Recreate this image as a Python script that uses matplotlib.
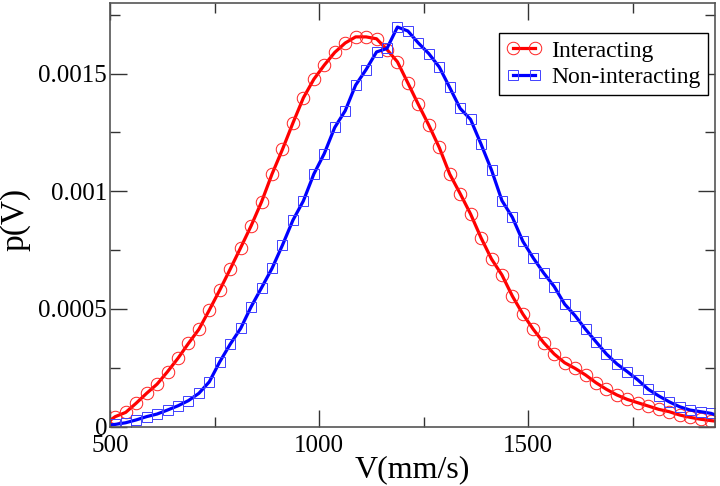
import numpy as np
import matplotlib.pyplot as plt
from matplotlib.ticker import FixedLocator, FixedFormatter

plt.rcParams['font.family'] = ['Liberation Serif', 'DejaVu Serif']

# bin centres (mm/s), 25 mm/s wide bins
velocidad = np.arange(487.5, 1975.0, 25.0)

interacting = [
    0.000010, 0.000042, 0.000060, 0.000099, 0.000141, 0.000180, 0.000233, 0.000290,
    0.000353, 0.000413, 0.000495, 0.000580, 0.000669, 0.000760, 0.000853, 0.000955,
    0.001073, 0.001178, 0.001290, 0.001397, 0.001476, 0.001536, 0.001590, 0.001630,
    0.001656, 0.001656, 0.001648, 0.001602, 0.001550, 0.001460, 0.001369, 0.001281,
    0.001186, 0.001073, 0.000990, 0.000903, 0.000802, 0.000712, 0.000644, 0.000554,
    0.000478, 0.000413, 0.000356, 0.000308, 0.000271, 0.000247, 0.000219, 0.000186,
    0.000158, 0.000134, 0.000115, 0.000101, 0.000087, 0.000073, 0.000063, 0.000049,
    0.000039, 0.000031, 0.000025, 0.000020,
]

non_interacting = [
    0.000004, 0.000009, 0.000016, 0.000028, 0.000042, 0.000053, 0.000070, 0.000088,
    0.000110, 0.000141, 0.000190, 0.000275, 0.000350, 0.000417, 0.000509, 0.000590,
    0.000672, 0.000771, 0.000877, 0.000959, 0.001073, 0.001160, 0.001271, 0.001342,
    0.001451, 0.001517, 0.001592, 0.001607, 0.001698, 0.001681, 0.001630, 0.001585,
    0.001528, 0.001441, 0.001352, 0.001305, 0.001200, 0.001090, 0.000960, 0.000889,
    0.000787, 0.000716, 0.000652, 0.000595, 0.000520, 0.000471, 0.000413, 0.000360,
    0.000308, 0.000266, 0.000233, 0.000198, 0.000158, 0.000130, 0.000105, 0.000084,
    0.000070, 0.000063, 0.000056, 0.000040,
]

xticks = [500, 1000, 1500]
yticks = [0, 0.0005, 0.001, 0.0015]
ytick_labels = ['0', '0.0005', '0.001', '0.0015']

fig = plt.figure(figsize=(7.2, 4.86), dpi=100)
ax = fig.add_axes([0.1528, 0.1224, 0.8402, 0.8714])

ax.plot(velocidad, interacting, color='#ff0000', lw=2.3, marker='o', ms=9,
        mfc='none', mec='#ff2020', mew=0.7, label='Interacting')
ax.plot(velocidad, non_interacting, color='#0000ff', lw=2.3, marker='s', ms=7.5,
        mfc='none', mec='#4040ff', mew=0.7, label='Non-interacting')

ax.set_xlim(500, 1947)
ax.set_ylim(0, 0.0018)

ax.xaxis.set_major_locator(FixedLocator(xticks))
ax.xaxis.set_minor_locator(FixedLocator([750, 1250, 1750]))
ax.yaxis.set_major_locator(FixedLocator(yticks))
ax.yaxis.set_major_formatter(FixedFormatter(ytick_labels))
ax.yaxis.set_minor_locator(FixedLocator([0.00025, 0.00075, 0.00125, 0.00175]))

ax.tick_params(which='both', direction='in', top=True, right=True, colors='#333333',
               labelcolor='black', labelsize=18)
ax.tick_params(which='major', length=12, width=1)
ax.tick_params(which='minor', length=7, width=1)
ax.tick_params(axis='x', pad=6)
ax.tick_params(axis='y', pad=2)
for s in ax.spines.values():
    s.set_color('#555555')
    s.set_linewidth(1.2)

ax.set_xlabel('V(mm/s)', fontsize=23)
ax.xaxis.set_label_coords(0.5, -0.068, transform=ax.transAxes)
ax.xaxis.label.set_va('top')
ax.set_ylabel('p(V)', fontsize=24)
ax.yaxis.set_label_coords(-0.131, 0.49)

leg = ax.legend(loc='upper right', bbox_to_anchor=(0.988, 0.929), numpoints=2,
                fontsize=17, fancybox=False, framealpha=1, edgecolor='black',
                handlelength=1.5, handletextpad=0.4, borderpad=0.3, labelspacing=0.2,
                borderaxespad=0)
leg.get_frame().set_linewidth(1.0)

fig.savefig('out.png', dpi=100)
